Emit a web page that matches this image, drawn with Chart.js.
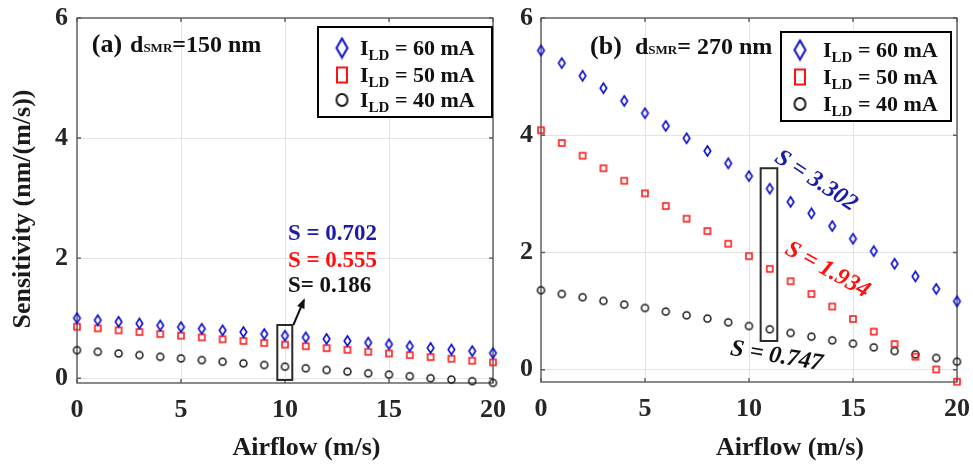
<!DOCTYPE html>
<html lang="en">
<head>
<meta charset="UTF-8">
<title>Sensitivity vs Airflow</title>
<script src="https://cdn.jsdelivr.net/npm/chart.js"></script>
<style>
  body { margin: 0; background: #fff; }
  .wrap { position: relative; width: 973px; height: 464px; overflow: hidden; }
  #chartA { position: absolute; left: 0; top: 0; }
  #chartB { position: absolute; left: 505px; top: 0; }
</style>
</head>
<body>
<div class="wrap">
  <canvas id="chartA" width="505" height="464" style="width:505px;height:464px"></canvas>
  <canvas id="chartB" width="468" height="464" style="width:468px;height:464px"></canvas>
</div>
<script>
// data
const airflow = [0, 1, 2, 3, 4, 5, 6, 7, 8, 9, 10, 11, 12, 13, 14, 15, 16, 17, 18, 19, 20];
const xTicks = [0, 5, 10, 15, 20];
const yTicks = [0, 2, 4, 6];
const currents = ['60', '50', '40'];

// (a) d_SMR = 150 nm
const sensA60 = [1.00, 0.967, 0.94, 0.912, 0.879, 0.852, 0.824, 0.797, 0.769, 0.736, 0.709, 0.681, 0.654, 0.621, 0.593, 0.566, 0.533, 0.505, 0.478, 0.451, 0.418];
const sensA50 = [0.857, 0.83, 0.797, 0.769, 0.736, 0.709, 0.681, 0.648, 0.621, 0.588, 0.56, 0.533, 0.50, 0.473, 0.44, 0.412, 0.385, 0.352, 0.324, 0.291, 0.264];
const sensA40 = [0.467, 0.44, 0.412, 0.385, 0.357, 0.33, 0.302, 0.275, 0.247, 0.22, 0.192, 0.165, 0.137, 0.11, 0.082, 0.06, 0.033, 0.0, -0.022, -0.049, -0.077];

// (b) d_SMR = 270 nm
const sensB60 = [5.446, 5.231, 5.014, 4.803, 4.586, 4.376, 4.159, 3.948, 3.731, 3.52, 3.303, 3.089, 2.864, 2.667, 2.451, 2.234, 2.022, 1.807, 1.591, 1.378, 1.166];
const sensB50 = [4.085, 3.868, 3.651, 3.436, 3.224, 3.009, 2.792, 2.576, 2.366, 2.149, 1.937, 1.72, 1.509, 1.292, 1.077, 0.865, 0.65, 0.438, 0.222, 0.005, -0.205];
const sensB40 = [1.356, 1.292, 1.236, 1.173, 1.111, 1.053, 0.991, 0.928, 0.872, 0.808, 0.745, 0.689, 0.626, 0.564, 0.501, 0.444, 0.381, 0.318, 0.262, 0.20, 0.137];

const SERIF = "'Liberation Serif', 'Times New Roman', serif";
const BLUE = '#0a0ad0', RED = '#ff1010', BLACK = '#1a1a1a';
const TXT_BLUE = '#1c1ca8';

function markerImg(kind, color, w, h, lw) {
  const c = document.createElement('canvas');
  c.width = Math.ceil(w + lw + 2);
  c.height = Math.ceil(h + lw + 2);
  const g = c.getContext('2d');
  const cx = c.width / 2, cy = c.height / 2;
  g.strokeStyle = color;
  g.lineWidth = lw;
  g.beginPath();
  if (kind === 'diamond') {
    g.moveTo(cx, cy - h / 2); g.lineTo(cx + w / 2, cy);
    g.lineTo(cx, cy + h / 2); g.lineTo(cx - w / 2, cy); g.closePath();
  } else if (kind === 'square') {
    g.rect(cx - w / 2, cy - h / 2, w, h);
  } else {
    g.ellipse(cx, cy, w / 2, h / 2, 0, 0, Math.PI * 2);
  }
  g.stroke();
  return c;
}

const dotStyles = [
  markerImg('diamond', BLUE, 6.5, 10, 1.6),
  markerImg('square', RED, 6, 6, 1.5),
  markerImg('circle', BLACK, 7, 7, 1.5)
];
const legendStyles = [
  markerImg('diamond', BLUE, 11, 19, 2),
  markerImg('square', RED, 10, 15, 2),
  markerImg('circle', BLACK, 11, 12, 2)
];

function font(size, style) {
  return (style || '') + ' bold ' + size + 'px ' + SERIF;
}

// draws text pieces one after another, piece = [text, size, dy]
function drawRuns(ctx, x, y, runs, style) {
  runs.forEach(r => {
    ctx.font = font(r[1], style);
    ctx.fillText(r[0], x, y + (r[2] || 0));
    x += ctx.measureText(r[0]).width;
  });
}

const decor = {
  id: 'decor',
  beforeDatasetsDraw(chart, args, o) {
    const { ctx, chartArea: a } = chart;
    const xs = chart.scales.x, ys = chart.scales.y;
    ctx.save();
    ctx.strokeStyle = '#5a5a5a';
    ctx.lineWidth = 1.4;
    ctx.strokeRect(a.left, a.top, a.width, a.height);
    // small inward tick marks
    ctx.beginPath();
    xTicks.forEach(v => {
      const px = xs.getPixelForValue(v);
      ctx.moveTo(px, a.bottom); ctx.lineTo(px, a.bottom - 4);
      ctx.moveTo(px, a.top); ctx.lineTo(px, a.top + 4);
    });
    yTicks.forEach(v => {
      const py = ys.getPixelForValue(v);
      ctx.moveTo(a.left, py); ctx.lineTo(a.left + 4, py);
      ctx.moveTo(a.right, py); ctx.lineTo(a.right - 4, py);
    });
    ctx.stroke();
    ctx.restore();
  },
  afterDatasetsDraw(chart, args, o) {
    const { ctx, chartArea: a } = chart;
    const xs = chart.scales.x, ys = chart.scales.y;
    const X = v => xs.getPixelForValue(v), Y = v => ys.getPixelForValue(v);
    ctx.save();
    ctx.textBaseline = 'alphabetic';
    ctx.textAlign = 'left';

    // panel label
    ctx.fillStyle = '#111';
    ctx.font = font(26);
    ctx.fillText(o.panel, X(o.panelAt[0]), Y(o.panelAt[1]));
    drawRuns(ctx, X(o.dAt), Y(o.panelAt[1]), [['d', 24], ['SMR', 13], [o.dText, 24]]);

    // box around the marked point
    ctx.strokeStyle = '#2a2a2a';
    ctx.lineWidth = 2;
    const b = o.box;
    ctx.strokeRect(X(b[0]), Y(b[3]), X(b[1]) - X(b[0]), Y(b[2]) - Y(b[3]));

    // arrow
    if (o.arrow) {
      const x1 = X(o.arrow[0]), y1 = Y(o.arrow[1]), x2 = X(o.arrow[2]), y2 = Y(o.arrow[3]);
      ctx.strokeStyle = '#111';
      ctx.fillStyle = '#111';
      ctx.lineWidth = 2;
      ctx.beginPath(); ctx.moveTo(x1, y1); ctx.lineTo(x2, y2); ctx.stroke();
      const ang = Math.atan2(y2 - y1, x2 - x1);
      ctx.beginPath();
      ctx.moveTo(x2 + 2 * Math.cos(ang), y2 + 2 * Math.sin(ang));
      ctx.lineTo(x2 - 8 * Math.cos(ang) + 4 * Math.sin(ang), y2 - 8 * Math.sin(ang) - 4 * Math.cos(ang));
      ctx.lineTo(x2 - 8 * Math.cos(ang) - 4 * Math.sin(ang), y2 - 8 * Math.sin(ang) + 4 * Math.cos(ang));
      ctx.closePath(); ctx.fill();
    }

    // slope notes
    o.notes.forEach(n => {
      ctx.save();
      ctx.fillStyle = n.color;
      ctx.font = font(n.size, n.italic ? 'italic' : '');
      ctx.translate(X(n.at[0]), Y(n.at[1]));
      ctx.rotate((n.angle || 0) * Math.PI / 180);
      ctx.textAlign = n.align || 'left';
      ctx.textBaseline = n.align === 'center' ? 'middle' : 'alphabetic';
      ctx.fillText(n.text, 0, 0);
      ctx.restore();
    });

    // legend
    const L = o.legend;
    const lx = a.right - L.inset - L.w, ly = a.top + L.top;
    ctx.fillStyle = '#fff';
    ctx.fillRect(lx, ly, L.w, L.h);
    ctx.strokeStyle = '#000';
    ctx.lineWidth = 2;
    ctx.strokeRect(lx, ly, L.w, L.h);
    currents.forEach((c, i) => {
      const ry = ly + L.rows[i];
      const img = legendStyles[i];
      ctx.drawImage(img, lx + L.mx - img.width / 2, ry - img.height / 2);
      ctx.fillStyle = '#111';
      drawRuns(ctx, lx + 42, ry + 7, [['I', 22], ['LD', 15, 5], [' = ' + c + ' mA', 22]]);
    });

    ctx.restore();
  },
  afterDraw(chart, args, o) {
    const { ctx } = chart;
    const xs = chart.scales.x;
    ctx.save();
    ctx.fillStyle = '#1a1a1a';
    ctx.font = font(26);
    ctx.textAlign = 'center';
    ctx.textBaseline = 'alphabetic';
    ctx.fillText('Airflow (m/s)', xs.getPixelForValue(o.xTitleAt), 455);
    if (o.yTitle) {
      ctx.translate(23, 209);
      ctx.rotate(-Math.PI / 2);
      ctx.textBaseline = 'middle';
      ctx.fillText(o.yTitle, 0, 0);
    }
    ctx.restore();
  }
};

function makeChart(id, series, yMin, yWidth, xHeight, padRight, tickPad, decorOpts) {
  const datasets = series.map((vals, i) => ({
    label: 'I_LD = ' + currents[i] + ' mA',
    data: airflow.map((x, j) => ({ x: x, y: vals[j] })),
    pointStyle: dotStyles[i],
    pointRadius: 4,
    showLine: false,
    clip: false
  }));
  return new Chart(document.getElementById(id), {
    type: 'scatter',
    data: { datasets: datasets },
    options: {
      responsive: false,
      animation: false,
      layout: { padding: { top: 18, right: padRight, left: 0, bottom: 0 } },
      plugins: {
        legend: { display: false },
        tooltip: { enabled: false },
        decor: decorOpts
      },
      scales: {
        x: {
          type: 'linear', min: 0, max: 20,
          afterBuildTicks: s => { s.ticks = xTicks.map(v => ({ value: v })); },
          afterFit: s => { s.height = xHeight; s.paddingLeft = 0; s.paddingRight = 0; },
          grid: { color: '#e4e4e4', lineWidth: 1, drawTicks: false },
          border: { display: false },
          ticks: { padding: 12, color: '#262626', font: { family: SERIF, size: 26, weight: 'bold' }, maxRotation: 0 }
        },
        y: {
          type: 'linear', min: yMin, max: 6,
          afterBuildTicks: s => { s.ticks = yTicks.map(v => ({ value: v })); },
          afterFit: s => { s.width = yWidth; s.paddingTop = 0; s.paddingBottom = 0; },
          grid: { color: '#e4e4e4', lineWidth: 1, drawTicks: false },
          border: { display: false },
          ticks: { padding: tickPad, color: '#262626', font: { family: SERIF, size: 26, weight: 'bold' } }
        }
      }
    },
    plugins: [decor]
  });
}

makeChart('chartA', [sensA60, sensA50, sensA40], -0.08, 77, 81, 12, 9, {
  panel: '(a)', panelAt: [0.71, 5.43], dAt: 2.55, dText: '=150 nm',
  box: [9.63, 10.35, -0.03, 0.886],
  arrow: [10.40, 0.886, 10.91, 1.30],
  notes: [
    { text: 'S = 0.702', color: TXT_BLUE, size: 23, at: [10.14, 2.30] },
    { text: 'S = 0.555', color: RED, size: 23, at: [10.14, 1.857] },
    { text: 'S= 0.186', color: '#111', size: 23, at: [10.14, 1.436] }
  ],
  legend: { inset: 1, top: 9, w: 174, h: 90, mx: 24, rows: [21, 48, 73] },
  xTitleAt: 11.03,
  yTitle: 'Sensitivity (nm/(m/s))'
});

makeChart('chartB', [sensB60, sensB50, sensB40], -0.21, 36, 82, 16, 8, {
  panel: '(b)', panelAt: [2.36, 5.38], dAt: 4.52, dText: '= 270 nm',
  box: [10.56, 11.36, 0.49, 3.437],
  arrow: null,
  notes: [
    { text: 'S = 3.302', color: TXT_BLUE, size: 24, italic: true, at: [13.22, 3.22], angle: 33, align: 'center' },
    { text: 'S = 1.934', color: RED, size: 24, italic: true, at: [13.77, 1.70], angle: 29, align: 'center' },
    { text: 'S = 0.747', color: '#111', size: 24, italic: true, at: [11.32, 0.227], angle: 9.5, align: 'center' }
  ],
  legend: { inset: 6, top: 14, w: 170, h: 89, mx: 19, rows: [18, 45, 72] },
  xTitleAt: 11.97,
  yTitle: null
});
</script>
</body>
</html>
